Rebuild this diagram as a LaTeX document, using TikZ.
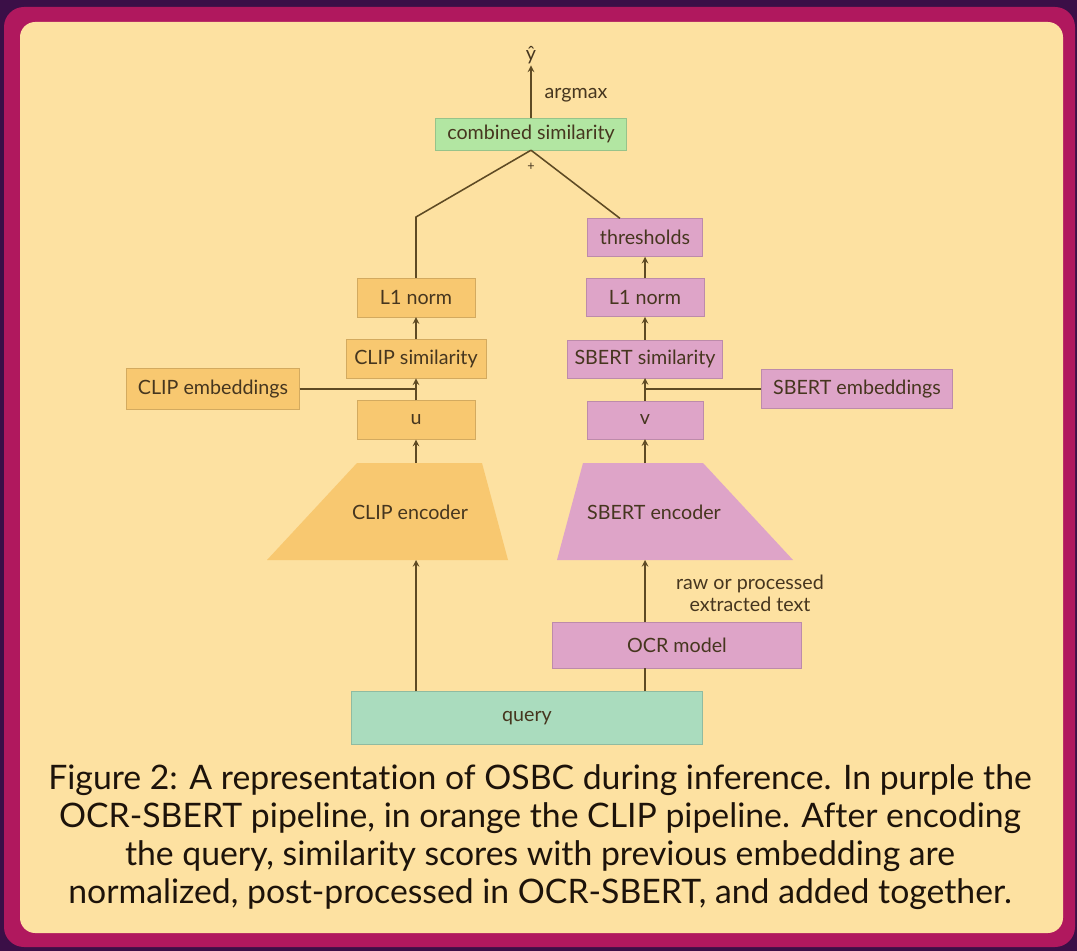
\documentclass[tikz,border=0pt]{standalone}
\usepackage{fontspec}
\setmainfont{Lato}[Ligatures=NoCommon]
\usepackage{tikz}
\usetikzlibrary{shapes.geometric, arrows}

\definecolor{bgdark}{HTML}{3B0F47}
\definecolor{framemag}{HTML}{B0185E}
\definecolor{cream}{HTML}{FDE1A1}
\definecolor{cliporange}{HTML}{F8C870}
\definecolor{sbertpink}{HTML}{DEA4C8}
\definecolor{combgreen}{HTML}{B2E6A2}
\definecolor{queryteal}{HTML}{AADCBE}
\definecolor{linebrown}{HTML}{5E4A24}
\definecolor{textbrown}{HTML}{46361F}

\tikzstyle{txt} = [text=textbrown, font=\fontsize{14}{16}\selectfont, inner sep=1pt]
\tikzstyle{clipblock} = [fill=cliporange, draw=cliporange!85!black, line width=0.3pt,
    rectangle, text=textbrown, font=\fontsize{14}{16}\selectfont,
    minimum width=2.95cm, minimum height=0.97cm]
\tikzstyle{sbertblock} = [fill=sbertpink, draw=sbertpink!85!black, line width=0.3pt,
    rectangle, text=textbrown, font=\fontsize{14}{16}\selectfont,
    minimum width=2.9cm, minimum height=0.95cm]
\tikzstyle{arrow} = [line width=1.1pt, draw=linebrown, ->, >=stealth]
\tikzstyle{wire} = [line width=1.1pt, draw=linebrown]

\begin{document}
\begin{tikzpicture}[x=0.025cm, y=-0.025cm, node distance=1.53cm]
        \useasboundingbox (0, 0) rectangle (1077, 951);
        \fill [bgdark] (0, 0) rectangle (1077, 951);
        \fill [framemag, rounded corners=0.5cm] (4, 7) rectangle (1075, 947);
        \fill [cream, rounded corners=0.38cm] (20, 22) rectangle (1063, 933);

        \node [txt] (yhat) at (531, 55) {ŷ};
        \node [rectangle, fill=combgreen, draw=combgreen!85!black, line width=0.3pt, text=textbrown,
            font=\fontsize{14}{16}\selectfont, minimum width=4.775cm, minimum height=0.8cm] (comb) at (531, 134) {combined similarity};
        \node [txt] (argmax) at (576, 95) {argmax};
        \node [txt, font=\fontsize{9}{10}\selectfont] (plus) at (531, 167) {+};

        % CLIP side
        \coordinate (ce1) at (357, 463); \coordinate (ce2) at (482, 463);
        \coordinate (ce3) at (508, 560); \coordinate (ce4) at (267, 560);
        \fill [cliporange] (ce1) -- (ce2) -- (ce3) -- (ce4) -- cycle;
        \node [txt] (clipenc) at (410, 512) {CLIP encoder};
        \node [clipblock] (u) at (416, 420) {u};
        \node [clipblock, above of=u, minimum width=3.5cm] (clipsim) {CLIP similarity};
        \node [clipblock, above of=clipsim] (clipl1) {L1 norm};
        \node [clipblock, minimum width=4.325cm, minimum height=1.025cm] (clipemb) at (213, 389) {CLIP embeddings};
        \coordinate (bendl) at (416, 217);

        % SBERT side
        \coordinate (se1) at (583, 463); \coordinate (se2) at (703, 463);
        \coordinate (se3) at (793, 560); \coordinate (se4) at (557, 560);
        \fill [sbertpink] (se1) -- (se2) -- (se3) -- (se4) -- cycle;
        \node [txt] (sbertenc) at (654, 512) {SBERT encoder};
        \node [sbertblock] (v) at (645, 420) {v};
        \node [sbertblock, above of=v, minimum width=3.875cm] (sbertsim) {SBERT similarity};
        \node [sbertblock, above of=sbertsim, minimum width=2.95cm] (sbertl1) {L1 norm};
        \node [sbertblock, above of=sbertl1, node distance=1.5cm, minimum width=2.875cm] (thr) {thresholds};
        \node [sbertblock, minimum width=4.775cm, minimum height=0.975cm] (sbertemb) at (857, 389) {SBERT embeddings};
        \node [sbertblock, minimum width=6.225cm, minimum height=1.15cm] (ocr) at (677, 645) {OCR model};
        \node [txt, align=center, font=\fontsize{14}{15.5}\selectfont] (rawtxt) at (750, 593) {raw or processed\\extracted text};

        \node [rectangle, fill=queryteal, draw=queryteal!85!black, line width=0.3pt, text=textbrown,
            font=\fontsize{14}{16}\selectfont, minimum width=8.775cm, minimum height=1.325cm] (query) at (527, 718) {query};

        \node [align=center, text=black!85!brown, font=\fontsize{24}{27}\selectfont] (caption) at (540, 837)
            {Figure 2: A representation of OSBC during inference. In purple the\\
             OCR-SBERT pipeline, in orange the CLIP pipeline. After encoding\\
             the query, similarity scores with previous embedding are\\
             normalized, post-processed in OCR-SBERT, and added together.};

        \draw [arrow] (query.north -| u) -- (u |- ce4); \draw [arrow] (u |- ce1) -- (u);
        \draw [arrow] (u) -- (clipsim); \draw [wire] (clipemb) -- (clipemb -| u); \draw [arrow] (clipsim) -- (clipl1);
        \draw [wire] (clipl1) -- (bendl) -- (comb.south);
        \draw [wire] (query.north -| v) -- (ocr.south -| v); \draw [arrow] (ocr.north -| v) -- (v |- se4);
        \draw [arrow] (v |- se1) -- (v); \draw [arrow] (v) -- (sbertsim); \draw [wire] (sbertemb) -- (sbertemb -| v);
        \draw [arrow] (sbertsim) -- (sbertl1); \draw [arrow] (sbertl1) -- (thr); \draw [wire] (thr) -- (comb.south);
        \draw [arrow] (comb) -- (yhat);
    \end{tikzpicture}
\end{document}
